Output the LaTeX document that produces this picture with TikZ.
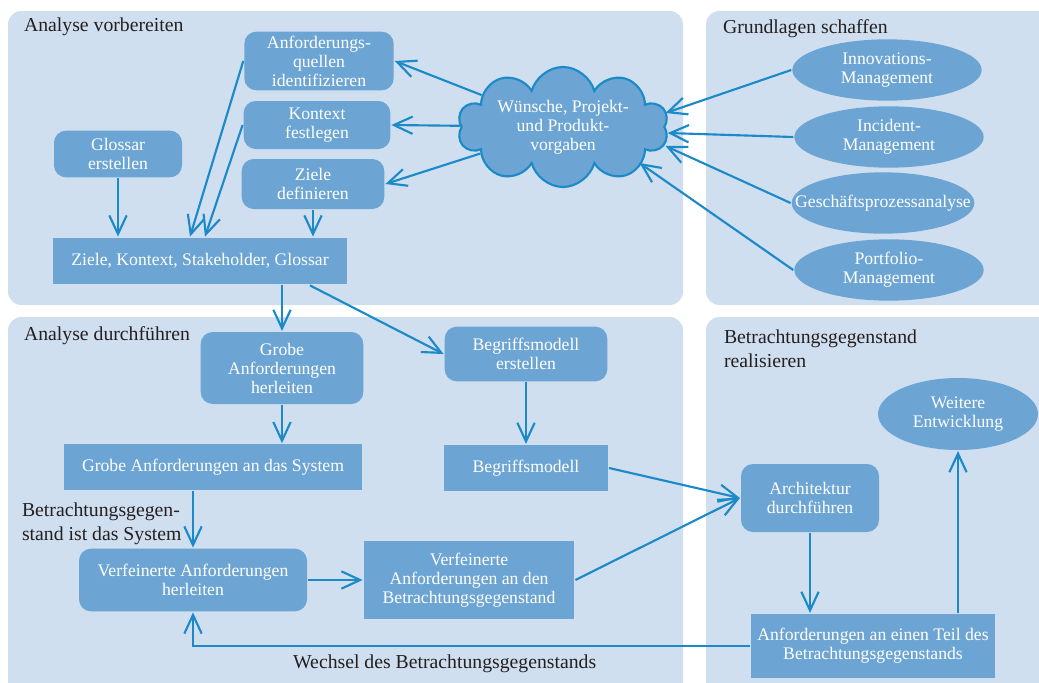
\documentclass[tikz,border=0pt]{standalone}
\usepackage{fontspec}
\setmainfont{Liberation Serif}
\usetikzlibrary{arrows.meta,shapes.symbols,shapes.geometric}

\definecolor{panelblue}{RGB}{208,223,239}
\definecolor{boxblue}{RGB}{108,165,211}
\definecolor{linkblue}{RGB}{28,138,201}
\definecolor{titlegray}{RGB}{35,31,32}
\newcommand{\boxfont}{\fontsize{13.25pt}{14.25pt}\selectfont}
\newcommand{\titlefont}{\fontsize{14.8pt}{17.5pt}\selectfont}

\begin{document}
\begin{tikzpicture}[x=0.75pt,y=-0.75pt,->,>={Straight Barb[length=14pt,width=13pt]},
                    line width=1.6pt,draw=linkblue,font=\boxfont]
  \tikzstyle{panel}=[fill=panelblue,rounded corners=10pt]
  \tikzstyle{task}=[rectangle,rounded corners=9pt,fill=boxblue,text=white,align=center,inner sep=2pt]
  \tikzstyle{result}=[rectangle,fill=boxblue,text=white,align=center,inner sep=2pt]
  \tikzstyle{source}=[ellipse,fill=boxblue,text=white,align=center,inner sep=0pt,
                      minimum width=142pt,minimum height=46pt]
  \tikzstyle{wish}=[cloud,cloud puffs=10,cloud ignores aspect,fill=boxblue,draw=linkblue,
                    text=white,align=center,inner sep=0pt,minimum width=158pt,minimum height=90pt]
  \tikzstyle{area}=[anchor=north west,inner sep=0pt,align=left,text=titlegray,font=\titlefont]

  \useasboundingbox (0,0) rectangle (1039,682);

  % Hintergrundflaechen
  \fill[panel] (8,11) rectangle (683,305);
  \fill[panel] (706,11) rectangle (1060,305);
  \fill[panel] (8,317) rectangle (683,700);
  \fill[panel] (706,317) rectangle (1060,700);

  \node[area] (T1) at (23,17)  {Analyse vorbereiten};
  \node[area] (T2) at (722,19) {Grundlagen schaffen};
  \node[area] (T3) at (23,326) {Analyse durchführen};
  \node[area] (T4) at (723,329) {Betrachtungsgegenstand\\realisieren};
  \node[area] (T5) at (21,502) {Betrachtungsgegen-\\stand ist das System};

  % Analyse vorbereiten
  \node[task]   (Q) at (319,61)  [minimum width=112pt,minimum height=44pt] {Anforderungs-\\quellen\\identifizieren};
  \node[task]   (K) at (317,125) [minimum width=110pt,minimum height=36pt] {Kontext\\festlegen};
  \node[task]   (Z) at (313,184) [minimum width=107pt,minimum height=37.5pt] {Ziele\\definieren};
  \node[task]   (G) at (118,154) [minimum width=96pt,minimum height=35pt] {Glossar\\erstellen};
  \node[result] (S) at (200,261) [minimum width=221pt,minimum height=35pt] {Ziele, Kontext, Stakeholder, Glossar};
  \node[wish]   (W) at (563,127) {Wünsche, Projekt-\\und Produkt-\\vorgaben};

  % Grundlagen schaffen
  \node[source] (I) at (887,70)  {Innovations-\\Management};
  \node[source] (N) at (889,137) {Incident-\\Management};
  \node[source] (P) at (883,203) [minimum width=137pt] {\makebox[80pt]{Geschäftsprozessanalyse}};
  \node[source] (F) at (889,270) {Portfolio-\\Management};

  % Analyse durchfuehren
  \node[task]   (A) at (282,368) [minimum width=122pt,minimum height=54pt] {Grobe\\Anforderungen\\herleiten};
  \node[result] (B) at (213,467) [minimum width=224pt,minimum height=34pt] {Grobe Anforderungen an das System};
  \node[task]   (V) at (193,580) [minimum width=171pt,minimum height=47pt] {Verfeinerte Anforderungen\\herleiten};
  \node[result] (X) at (469,580) [minimum width=158pt,minimum height=59pt] {Verfeinerte\\Anforderungen an den\\Betrachtungsgegenstand};
  \node[task]   (M) at (526,354) [minimum width=122pt,minimum height=41pt] {Begriffsmodell\\erstellen};
  \node[result] (D) at (526,468) [minimum width=123pt,minimum height=34.5pt] {Begriffsmodell};

  % Betrachtungsgegenstand realisieren
  \node[task]   (R) at (810,498) [minimum width=103.5pt,minimum height=51pt] {Architektur\\durchführen};
  \node[result] (U) at (873,646) [minimum width=183pt,minimum height=48pt] {Anforderungen an einen Teil des\\Betrachtungsgegenstands};
  \node[source] (E) at (958,414) [minimum width=120pt,minimum height=54pt] {Weitere\\Entwicklung};

  \path (W) edge (Q.east)
            edge (K.east)
            edge (Z.east)
        (I.west) edge ([yshift=10.5pt]W.east)
        (N.west) edge ([xshift=1.5pt,yshift=-4.5pt]W.east)
        (P.west) edge ([yshift=-14.25pt]W.east)
        (F.west) edge ([xshift=-19.5pt,yshift=-27pt]W.east)
        (G.south) edge (G.south |- S.north)
        (Q.west)  edge ([xshift=-7.5pt]S.north)
        (K.west)  edge ([xshift=3.75pt]S.north)
        (Z.south) edge (Z.south |- S.north)
        (A.north |- S.south) edge (A.north)
        ([xshift=82.5pt]S.south) edge (M.west)
        (A.south) edge (A.south |- B.north)
        (V.north |- B.south) edge (V.north)
        (V.east) edge (X.west)
        (M.south) edge (D.north)
        (D.east) edge (R.west)
        (X.east) edge (R.west)
        (R.south) edge (R.south |- U.north)
        (E.south |- U.north) edge (E.south);

  \draw (U.west) -| node[below=6pt,pos=0.274,inner sep=0pt,text=titlegray,font=\titlefont] (L) {Wechsel des Betrachtungsgegenstands} (V.south);
\end{tikzpicture}
\end{document}
